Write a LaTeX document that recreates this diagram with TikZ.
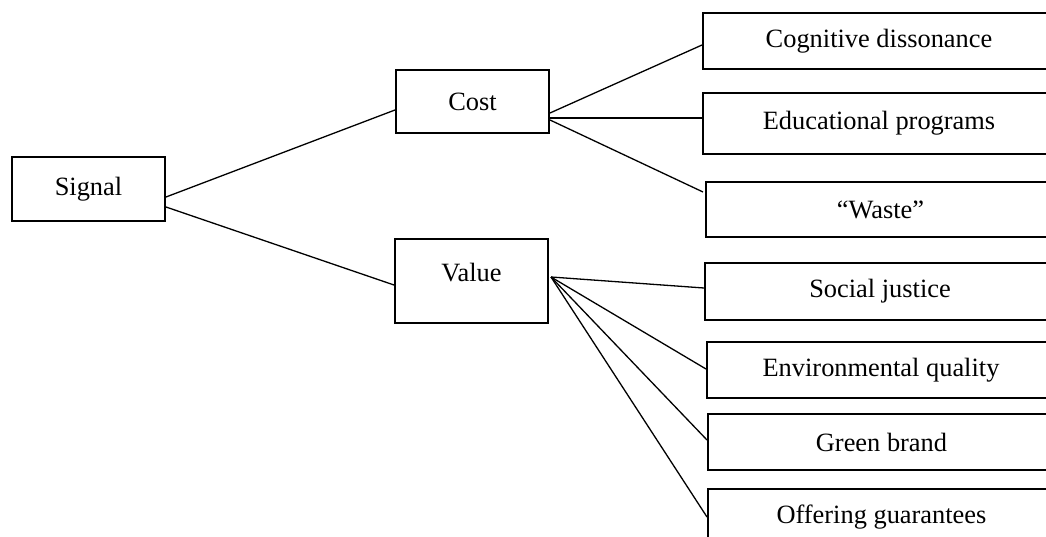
\documentclass[tikz,border=0pt]{standalone}
\usepackage{fontspec}
\setmainfont{Liberation Serif}

\begin{document}
\begin{tikzpicture}[x=1pt, y=-1pt,
    box/.style={draw, line width=2pt, inner sep=0pt, font=\fontsize{26.4}{31}\selectfont},
    leaf/.style={box, minimum height=56pt},
    link/.style={line width=1.3pt}]
      \useasboundingbox (0,0) rectangle (1046,537);
      \clip (0,0) rectangle (1046,537);
      % left part
      \node[box, minimum width=153pt, minimum height=64pt] (signal) at (88.5,189) {Signal};
      \node[box, minimum width=153pt, minimum height=63pt] (cost) at (472.5,101.5) {Cost};
      \node[box, minimum width=153pt, minimum height=84pt, text depth=18pt] (value) at (471.5,281) {Value};
      % right part
      \foreach \n/\x/\y/\w/\h/\t in {cog/879/41/352/56/Cognitive dissonance,
          edu/879/123.5/352/61/Educational programs,
          waste/880.5/209.5/349/55/“Waste”,
          soc/880/291.5/350/57/Social justice,
          env/881/370/348/56/Environmental quality,
          green/881.5/442/347/56/Green brand,
          offer/881.5/517/347/56/Offering guarantees}{
          \node[leaf, minimum width=\w pt, minimum height=\h pt] (\n) at (\x,\y) {\t};
      }
      % connectors
      \draw[link] ([yshift=-8pt]signal.east) -- ([yshift=-8.5pt]cost.west);
      \draw[link] ([yshift=-18pt]signal.east) -- ([yshift=-4pt]value.west);
      \draw[link] ([yshift=-11.5pt]cost.east) -- ([yshift=-4pt]cog.west);
      \draw[link, line width=2pt] ([yshift=-16.5pt]cost.east) -- ([yshift=5.5pt]edu.west);
      \draw[link] ([yshift=-18.5pt]cost.east) -- ([xshift=-2pt, yshift=17.5pt]waste.west);
      \foreach \n/\s in {soc/3.5, env/1, green/2, offer/0}{
          \draw[link] ([xshift=2pt, yshift=4pt]value.east) -- ([yshift=\s pt]\n.west);
      }
  \end{tikzpicture}
\end{document}
